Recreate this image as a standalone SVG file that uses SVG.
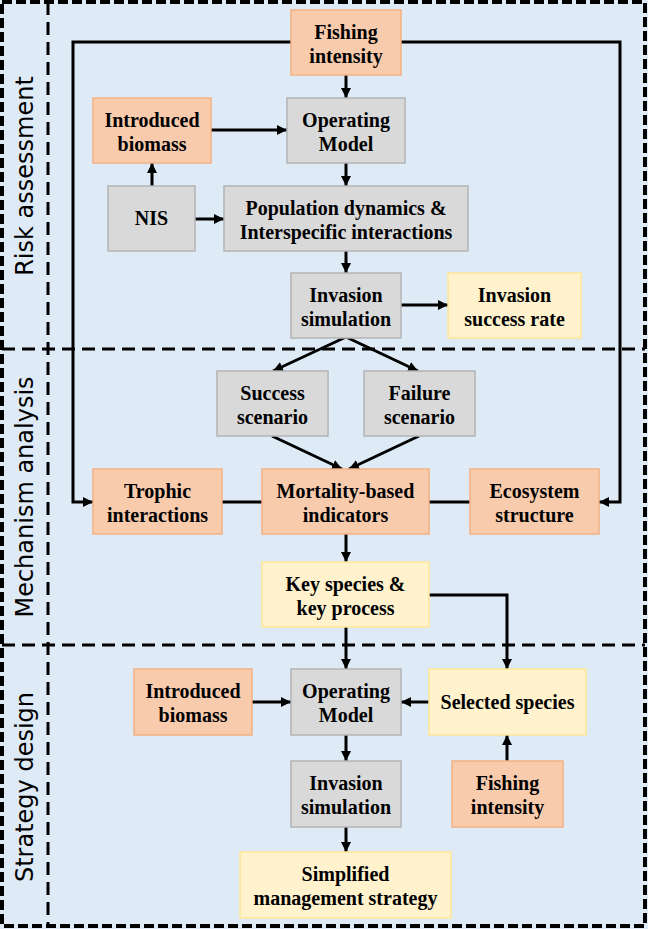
<svg xmlns="http://www.w3.org/2000/svg" width="648" height="929" viewBox="0 0 648 929">
<style>
.o{fill:#f8cbad;stroke:#f4b183;stroke-width:1.5}
.g{fill:#d9d9d9;stroke:#b4b4b4;stroke-width:1.5}
.y{fill:#fff2cc;stroke:#ffe699;stroke-width:1.5}
.t{font-family:"Liberation Serif","Times New Roman",serif;font-weight:bold;font-size:20px;fill:#000;text-anchor:middle}
.lab{font-family:"DejaVu Sans",sans-serif;font-size:24px;fill:#000;text-anchor:middle}
.c{fill:none;stroke:#000;stroke-width:3}
.d{fill:none;stroke:#000;stroke-width:3;stroke-dasharray:13 7}
</style>
<defs>
<marker id="ah" viewBox="0 0 10 10" refX="10" refY="5" markerWidth="10" markerHeight="10" markerUnits="userSpaceOnUse" orient="auto">
<path d="M0,0 L10,5 L0,10 z" fill="#000"/>
</marker>
</defs>
<rect x="0" y="0" width="648" height="929" fill="#deebf7"/>
<g id="frame">
<rect x="2" y="2" width="643" height="924" fill="none" stroke="#000" stroke-width="4" stroke-dasharray="10 4"/>
<line class="d" x1="48" y1="2" x2="48" y2="926"/>
<line class="d" x1="2" y1="349" x2="645" y2="349"/>
<line class="d" x1="2" y1="645" x2="645" y2="645"/>
<text class="lab" transform="translate(33,176) rotate(-90)">Risk assessment</text>
<text class="lab" transform="translate(33,497) rotate(-90)">Mechanism analysis</text>
<text class="lab" transform="translate(33,787) rotate(-90)">Strategy design</text>
</g>
<g id="connectors">
<polyline class="c" points="291,42 73,42 73,502 93,502" marker-end="url(#ah)"/>
<polyline class="c" points="401,42 620,42 620,502 599,502" marker-end="url(#ah)"/>
<line class="c" x1="346" y1="75" x2="346" y2="98" marker-end="url(#ah)"/>
<line class="c" x1="211" y1="130" x2="287" y2="130" marker-end="url(#ah)"/>
<line class="c" x1="152" y1="186" x2="152" y2="163" marker-end="url(#ah)"/>
<line class="c" x1="195" y1="219" x2="224" y2="219" marker-end="url(#ah)"/>
<line class="c" x1="346" y1="163" x2="346" y2="186" marker-end="url(#ah)"/>
<line class="c" x1="346" y1="251" x2="346" y2="273" marker-end="url(#ah)"/>
<line class="c" x1="401" y1="305" x2="448" y2="305" marker-end="url(#ah)"/>
<line class="c" x1="346" y1="337" x2="273" y2="371" marker-end="url(#ah)"/>
<line class="c" x1="346" y1="337" x2="418" y2="371" marker-end="url(#ah)"/>
<line class="c" x1="272" y1="436" x2="342" y2="469" marker-end="url(#ah)"/>
<line class="c" x1="419" y1="436" x2="349" y2="469" marker-end="url(#ah)"/>
<line class="c" x1="222" y1="502" x2="262" y2="502"/>
<line class="c" x1="429" y1="502" x2="470" y2="502"/>
<line class="c" x1="346" y1="534" x2="346" y2="562" marker-end="url(#ah)"/>
<line class="c" x1="346" y1="627" x2="346" y2="669" marker-end="url(#ah)"/>
<polyline class="c" points="429,595 507,595 507,669" marker-end="url(#ah)"/>
<line class="c" x1="252" y1="702" x2="291" y2="702" marker-end="url(#ah)"/>
<line class="c" x1="429" y1="702" x2="401" y2="702" marker-end="url(#ah)"/>
<line class="c" x1="507" y1="761" x2="507" y2="735" marker-end="url(#ah)"/>
<line class="c" x1="346" y1="735" x2="346" y2="761" marker-end="url(#ah)"/>
<line class="c" x1="346" y1="827" x2="346" y2="852" marker-end="url(#ah)"/>
</g>
<g id="fishing1"><rect class="o" x="291" y="10" width="110" height="65"/><text class="t" x="346" y="39">Fishing</text><text class="t" x="346" y="63">intensity</text></g>
<g id="introduced1"><rect class="o" x="93" y="98" width="118" height="65"/><text class="t" x="152" y="127">Introduced</text><text class="t" x="152" y="151">biomass</text></g>
<g id="operating1"><rect class="g" x="287" y="98" width="118" height="65"/><text class="t" x="346" y="127">Operating</text><text class="t" x="346" y="151">Model</text></g>
<g id="nis"><rect class="g" x="108" y="186" width="87" height="65"/><text class="t" x="151.5" y="225">NIS</text></g>
<g id="population"><rect class="g" x="224" y="186" width="244" height="65"/><text class="t" x="346" y="215">Population dynamics &amp;</text><text class="t" x="346" y="239">Interspecific interactions</text></g>
<g id="invasion1"><rect class="g" x="291" y="273" width="110" height="65"/><text class="t" x="346" y="302">Invasion</text><text class="t" x="346" y="326">simulation</text></g>
<g id="successrate"><rect class="y" x="448" y="273" width="133" height="65"/><text class="t" x="514.5" y="302">Invasion</text><text class="t" x="514.5" y="326">success rate</text></g>
<g id="success"><rect class="g" x="217" y="371" width="111" height="65"/><text class="t" x="272.5" y="400">Success</text><text class="t" x="272.5" y="424">scenario</text></g>
<g id="failure"><rect class="g" x="364" y="371" width="111" height="65"/><text class="t" x="419.5" y="400">Failure</text><text class="t" x="419.5" y="424">scenario</text></g>
<g id="trophic"><rect class="o" x="93" y="469" width="129" height="65"/><text class="t" x="157.5" y="498">Trophic</text><text class="t" x="157.5" y="522">interactions</text></g>
<g id="mortality"><rect class="o" x="262" y="469" width="167" height="65"/><text class="t" x="345.5" y="498">Mortality-based</text><text class="t" x="345.5" y="522">indicators</text></g>
<g id="ecosystem"><rect class="o" x="470" y="469" width="129" height="65"/><text class="t" x="534.5" y="498">Ecosystem</text><text class="t" x="534.5" y="522">structure</text></g>
<g id="keyspecies"><rect class="y" x="262" y="562" width="167" height="65"/><text class="t" x="345.5" y="591">Key species &amp;</text><text class="t" x="345.5" y="615">key process</text></g>
<g id="introduced2"><rect class="o" x="134" y="669" width="118" height="66"/><text class="t" x="193" y="698">Introduced</text><text class="t" x="193" y="722">biomass</text></g>
<g id="operating2"><rect class="g" x="291" y="669" width="110" height="66"/><text class="t" x="346" y="698">Operating</text><text class="t" x="346" y="722">Model</text></g>
<g id="selected"><rect class="y" x="429" y="669" width="157" height="66"/><text class="t" x="507.5" y="709">Selected species</text></g>
<g id="invasion2"><rect class="g" x="291" y="761" width="110" height="66"/><text class="t" x="346" y="790">Invasion</text><text class="t" x="346" y="814">simulation</text></g>
<g id="fishing2"><rect class="o" x="452" y="761" width="111" height="66"/><text class="t" x="507.5" y="790">Fishing</text><text class="t" x="507.5" y="814">intensity</text></g>
<g id="simplified"><rect class="y" x="240" y="852" width="211" height="66"/><text class="t" x="345.5" y="881">Simplified</text><text class="t" x="345.5" y="905">management strategy</text></g>
</svg>
